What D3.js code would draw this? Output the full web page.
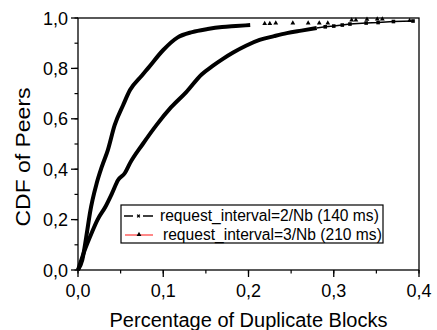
<!DOCTYPE html>
<html><head><meta charset="utf-8">
<script src="https://cdn.jsdelivr.net/npm/d3@7"></script>
<style>body{margin:0;background:#fff}svg{display:block}text{font-family:"Liberation Sans",Arial,sans-serif;fill:#000}</style>
</head><body>
<svg id="c" width="437" height="330"></svg>
<script>
// Series 2/Nb (140 ms) - slower curve
const aX = [0, 0.008, 0.016, 0.023, 0.032, 0.04, 0.047, 0.055, 0.061, 0.076, 0.092, 0.109, 0.127, 0.145, 0.158, 0.17, 0.182, 0.197, 0.213, 0.23, 0.245, 0.262, 0.28];
const aY = [0, 0.08, 0.147, 0.2, 0.25, 0.305, 0.357, 0.385, 0.424, 0.5, 0.575, 0.645, 0.706, 0.776, 0.81, 0.838, 0.863, 0.89, 0.913, 0.928, 0.94, 0.95, 0.96];
const aTailX = [0.29, 0.3, 0.31, 0.319, 0.338, 0.352, 0.37, 0.393];
const aTailY = [0.965, 0.968, 0.972, 0.976, 0.98, 0.982, 0.986, 0.988];
// Series 3/Nb (210 ms) - steeper curve
const bX = [0, 0.005, 0.011, 0.014, 0.022, 0.028, 0.035, 0.043, 0.053, 0.061, 0.075, 0.082, 0.1, 0.117, 0.134, 0.152, 0.169, 0.185, 0.202];
const bY = [0, 0.04, 0.16, 0.226, 0.345, 0.41, 0.476, 0.575, 0.655, 0.714, 0.772, 0.8, 0.873, 0.923, 0.944, 0.956, 0.964, 0.968, 0.972];
const bTailX = [0.219, 0.225, 0.232, 0.252, 0.27, 0.283, 0.293, 0.321, 0.326, 0.339, 0.351, 0.357, 0.389];
const bTailY = [0.978, 0.978, 0.98, 0.98, 0.98, 0.98, 0.98, 0.992, 0.992, 0.995, 0.996, 0.996, 0.99];
const xTicks = [0, 0.1, 0.2, 0.3, 0.4];
const yTicks = [0, 0.2, 0.4, 0.6, 0.8, 1.0];
const legendLabels = ["request_interval=2/Nb (140 ms)", "request_interval=3/Nb (210 ms)"];
const xTitle = "Percentage of Duplicate Blocks";
const yTitle = "CDF of Peers";

const svg = d3.select("#c");
const L = 78, R = 419, T = 18, B = 270;
const x = d3.scaleLinear().domain([0, 0.4]).range([L, R]);
const y = d3.scaleLinear().domain([0, 1]).range([B, T]);
const fmt = d => d3.format(".1f")(d).replace(".", ",");

// frame
svg.append("rect").attr("x", L).attr("y", T).attr("width", R - L).attr("height", B - T)
  .attr("fill", "none").attr("stroke", "#000").attr("stroke-width", 1.3);

// x ticks
const minorX = d3.range(0, 0.401, 0.05);
svg.selectAll(".mx").data(minorX).enter().append("line")
  .attr("x1", d => x(d)).attr("x2", d => x(d)).attr("y1", B).attr("y2", B + 3.5)
  .attr("stroke", "#000").attr("stroke-width", 1.2);
svg.selectAll(".Mx").data(xTicks).enter().append("line")
  .attr("x1", d => x(d)).attr("x2", d => x(d)).attr("y1", B).attr("y2", B + 7)
  .attr("stroke", "#000").attr("stroke-width", 1.3);
svg.selectAll(".tx").data(xTicks).enter().append("text")
  .attr("x", d => x(d)).attr("y", 297).attr("text-anchor", "middle")
  .style("font-size", "18px").text(fmt);

// y ticks
const minorY = d3.range(0, 1.001, 0.1);
svg.selectAll(".my").data(minorY).enter().append("line")
  .attr("x1", L - 3.5).attr("x2", L).attr("y1", d => y(d)).attr("y2", d => y(d))
  .attr("stroke", "#000").attr("stroke-width", 1.2);
svg.selectAll(".My").data(yTicks).enter().append("line")
  .attr("x1", L - 7).attr("x2", L).attr("y1", d => y(d)).attr("y2", d => y(d))
  .attr("stroke", "#000").attr("stroke-width", 1.3);
svg.selectAll(".ty").data(yTicks).enter().append("text")
  .attr("x", 68).attr("y", d => y(d) + 6.5).attr("text-anchor", "end")
  .style("font-size", "18px").text(fmt);

// titles
svg.append("text").attr("x", (L + R) / 2).attr("y", 327).attr("text-anchor", "middle")
  .style("font-size", "20px").text(xTitle);
svg.append("text").attr("transform", "translate(30,157) rotate(-90)").attr("text-anchor", "middle")
  .style("font-size", "21px").attr("textLength", 139).attr("lengthAdjust", "spacingAndGlyphs").text(yTitle);

const line = d3.line().x(d => x(d[0])).y(d => y(d[1]));
const smooth = d3.line().x(d => x(d[0])).y(d => y(d[1])).curve(d3.curveMonotoneX);
const zip = (xs, ys) => xs.map((v, i) => [v, ys[i]]);

// dense parts
svg.append("path").datum(zip(bX, bY)).attr("d", smooth).attr("fill", "none")
  .attr("stroke", "#000").attr("stroke-width", 4).attr("stroke-linejoin", "round");
svg.append("path").datum(zip(aX, aY)).attr("d", smooth).attr("fill", "none")
  .attr("stroke", "#000").attr("stroke-width", 4).attr("stroke-linejoin", "round");

// tails
const aT = zip([aX[aX.length - 1]].concat(aTailX), [aY[aY.length - 1]].concat(aTailY));
svg.append("path").datum(aT).attr("d", line).attr("fill", "none")
  .attr("stroke", "#000").attr("stroke-width", 1.5);
svg.selectAll(".am").data(zip(aTailX, aTailY)).enter().append("rect")
  .attr("x", d => x(d[0]) - 1.8).attr("y", d => y(d[1]) - 1.8).attr("width", 3.6).attr("height", 3.6).attr("fill", "#000");
const tri = d3.symbol().type(d3.symbolTriangle).size(10);
svg.selectAll(".bm").data(zip(bTailX, bTailY)).enter().append("path")
  .attr("d", tri).attr("transform", d => `translate(${x(d[0])},${y(d[1])})`).attr("fill", "#000");

// legend
const lg = svg.append("g");
lg.append("rect").attr("x", 121).attr("y", 205).attr("width", 262).attr("height", 38)
  .attr("fill", "#fff").attr("stroke", "#000").attr("stroke-width", 1.2);
// row 1: dashed black with x marker
lg.append("line").attr("x1", 124).attr("x2", 133).attr("y1", 216).attr("y2", 216).attr("stroke", "#000").attr("stroke-width", 1.5);
lg.append("line").attr("x1", 143).attr("x2", 153).attr("y1", 216).attr("y2", 216).attr("stroke", "#000").attr("stroke-width", 1.5);
lg.append("path").attr("d", d3.symbol().type(d3.symbolCross).size(8)).attr("transform", "translate(138.5,216) rotate(45)").attr("fill", "#000");
lg.append("text").attr("x", 160).attr("y", 221).style("font-size", "15.6px").text(legendLabels[0]);
// row 2: red line with triangle
lg.append("line").attr("x1", 125).attr("x2", 153).attr("y1", 235).attr("y2", 235).attr("stroke", "#f55").attr("stroke-width", 1.4);
lg.append("path").attr("d", tri).attr("transform", "translate(139,234.5)").attr("fill", "#000");
lg.append("text").attr("x", 163).attr("y", 240).style("font-size", "15.6px").text(legendLabels[1]);
</script>
</body></html>
